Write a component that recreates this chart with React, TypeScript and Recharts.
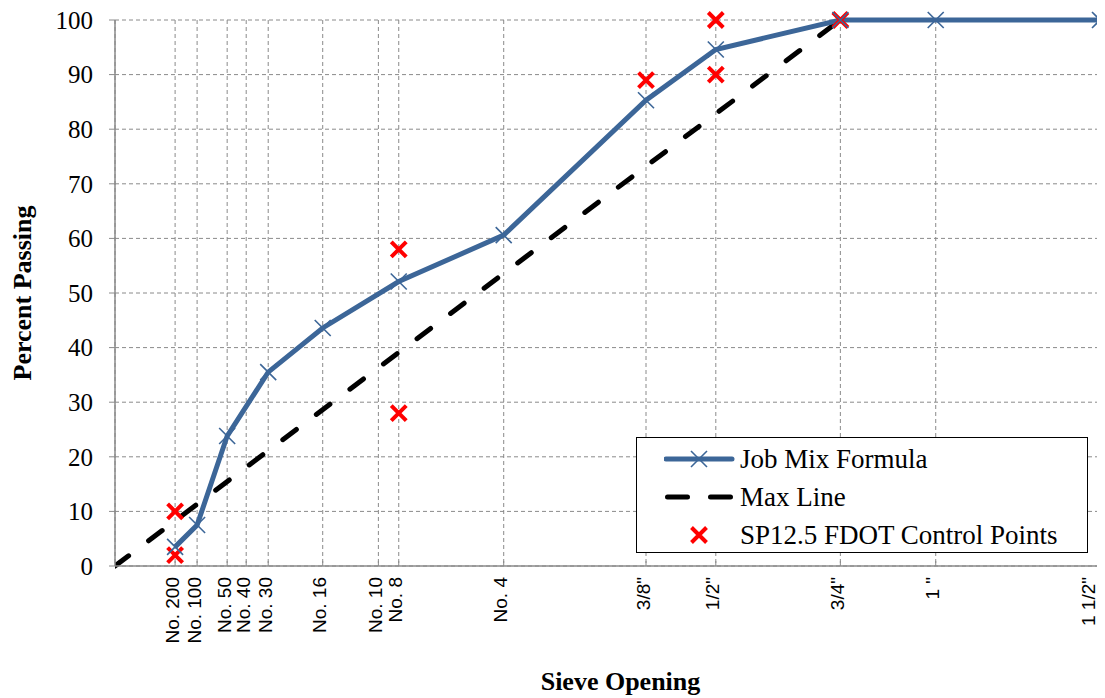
import React from 'react';
import { ComposedChart, Line, Scatter, XAxis, YAxis, CartesianGrid, Legend, Label } from 'recharts';

// sieve openings (mm) and their labels, plotted on a 0.45 power scale
const sieveLabels = ['No. 200', 'No. 100', 'No. 50', 'No. 40', 'No. 30', 'No. 16', 'No. 10', 'No. 8', 'No. 4', '3/8"', '1/2"', '3/4"', '1 "', '1 1/2"'];
const sieveSizes = [0.075, 0.15, 0.3, 0.425, 0.6, 1.18, 2.0, 2.36, 4.75, 9.5, 12.5, 19, 25, 37.5];

const jmfSizes = [0.075, 0.15, 0.3, 0.6, 1.18, 2.36, 4.75, 9.5, 12.5, 19, 25, 37.5];
const jmfPassing = [3.5, 7.5, 23.8, 35.5, 43.6, 52.1, 60.6, 85.3, 94.6, 100, 100, 100];

const maxLineSizes = [0, 19];
const maxLinePassing = [0, 100];

const controlSizes = [0.075, 0.075, 2.36, 2.36, 9.5, 12.5, 12.5, 19];
const controlPassing = [2, 10, 28, 58, 89, 90, 100, 100];

const yTicks = [0, 10, 20, 30, 40, 50, 60, 70, 80, 90, 100];

const pow45 = (mm: number) => Math.pow(mm, 0.45);

const CHART_W = 1097;
const BLUE = '#3C6698';
const RED = '#FF0000';
const GRID = '#8A8A8A';
const SERIF = '"Liberation Serif", "Times New Roman", serif';
const SANS = '"Liberation Sans", Arial, sans-serif';

const jmfData = jmfSizes.map((s, i) => ({ x: pow45(s), y: jmfPassing[i] }));
const maxData = maxLineSizes.map((s, i) => ({ x: pow45(s), y: maxLinePassing[i] }));
const controlData = controlSizes.map((s, i) => ({ x: pow45(s), y: controlPassing[i] }));
const xTicks = sieveSizes.map(pow45);

const labelFor = (v: number) => {
    let best = 0;
    xTicks.forEach((t, i) => {
        if (Math.abs(t - v) < Math.abs(xTicks[best] - v)) best = i;
    });
    return sieveLabels[best];
};

const SieveTick = (props: any) => {
    const { x, y, payload } = props;
    // last label is pulled in so it stays inside the picture
    const lx = Math.min(x - 3, CHART_W - 17);
    return (
        <g>
            <line x1={x} y1={y} x2={x} y2={y - 5} stroke={GRID} strokeWidth={1} />
            <text
                x={0}
                y={0}
                transform={`translate(${lx},${y + 11}) rotate(-90)`}
                textAnchor="end"
                dominantBaseline="central"
                fontFamily={SANS}
                fontSize={19}
                fill="#000"
            >
                {labelFor(payload.value)}
            </text>
        </g>
    );
};

const BlueCross = (props: any) => {
    const { cx, cy } = props;
    if (cx == null || cy == null) return null;
    const r = 8;
    return (
        <path
            d={`M${cx - r},${cy - r}L${cx + r},${cy + r}M${cx - r},${cy + r}L${cx + r},${cy - r}`}
            stroke={BLUE}
            strokeWidth={1.6}
            fill="none"
        />
    );
};

const RedCross = (props: any) => {
    const { cx, cy } = props;
    if (cx == null || cy == null) return null;
    const r = 7.5;
    return (
        <path
            d={`M${cx - r},${cy - r}L${cx + r},${cy + r}M${cx - r},${cy + r}L${cx + r},${cy - r}`}
            stroke={RED}
            strokeWidth={4}
            fill="none"
        />
    );
};

const rowStyle: React.CSSProperties = { display: 'flex', alignItems: 'center', height: 38 };

const LegendBox = () => (
    <div
        style={{
            border: '1.5px solid #000',
            background: '#fff',
            width: 452,
            height: 116,
            boxSizing: 'border-box',
            fontFamily: SERIF,
            fontSize: 27,
            lineHeight: '30px',
            color: '#000',
            paddingTop: 2,
        }}
    >
        <div style={rowStyle}>
            <svg width={76} height={24} style={{ marginLeft: 27 }}>
                <line x1={2} y1={12} x2={68} y2={12} stroke={BLUE} strokeWidth={5} strokeLinecap="round" />
                <BlueCross cx={35} cy={12} />
            </svg>
            <span>Job Mix Formula</span>
        </div>
        <div style={rowStyle}>
            <svg width={76} height={24} style={{ marginLeft: 27 }}>
                <line x1={3.5} y1={12} x2={67} y2={12} stroke="#000" strokeWidth={5} strokeLinecap="round" strokeDasharray="20 23" />
            </svg>
            <span>Max Line</span>
        </div>
        <div style={rowStyle}>
            <svg width={76} height={24} style={{ marginLeft: 27 }}>
                <RedCross cx={35} cy={12} />
            </svg>
            <span>SP12.5 FDOT Control Points</span>
        </div>
    </div>
);

export default function App() {
    return (
        <ComposedChart width={CHART_W} height={690} margin={{ top: 12, right: 5, left: 0, bottom: 0 }}>
            <CartesianGrid stroke={GRID} strokeDasharray="4 3" strokeWidth={1} />
            <XAxis
                type="number"
                dataKey="x"
                domain={[0, pow45(37.5)]}
                ticks={xTicks}
                interval={0}
                allowDataOverflow
                height={132}
                tickSize={0}
                tickMargin={0}
                tick={<SieveTick />}
                axisLine={{ stroke: GRID, strokeWidth: 1.5 }}
                tickLine={false}
            >
                <Label
                    value="Sieve Opening"
                    position="insideBottom"
                    offset={8}
                    dx={13}
                    style={{ fontFamily: SERIF, fontSize: 26, fontWeight: 'bold', fill: '#000' }}
                />
            </XAxis>
            <YAxis
                type="number"
                dataKey="y"
                domain={[0, 100]}
                ticks={yTicks}
                interval={0}
                width={107}
                tickSize={6}
                tickMargin={16}
                tick={{ fontFamily: SERIF, fontSize: 25, fill: '#000' }}
                axisLine={{ stroke: GRID, strokeWidth: 1.5 }}
                tickLine={{ stroke: GRID }}
            >
                <Label
                    value="Percent Passing"
                    angle={-90}
                    position="insideLeft"
                    offset={14}
                    style={{ textAnchor: 'middle', fontFamily: SERIF, fontSize: 26, fontWeight: 'bold', fill: '#000' }}
                />
            </YAxis>
            <Legend
                layout="horizontal"
                verticalAlign="middle"
                align="center"
                wrapperStyle={{ left: 628, top: 429, width: 452 }}
                content={() => <LegendBox />}
            />
            <Line
                data={maxData}
                dataKey="y"
                type="linear"
                stroke="#000"
                strokeWidth={5}
                strokeLinecap="round"
                strokeDasharray="17 25"
                dot={false}
                activeDot={false}
                isAnimationActive={false}
                legendType="none"
            />
            <Line
                data={jmfData}
                dataKey="y"
                type="linear"
                stroke={BLUE}
                strokeWidth={5}
                dot={<BlueCross />}
                activeDot={false}
                isAnimationActive={false}
            />
            <Scatter
                data={controlData}
                dataKey="y"
                shape={<RedCross />}
                isAnimationActive={false}
            />
        </ComposedChart>
    );
}
